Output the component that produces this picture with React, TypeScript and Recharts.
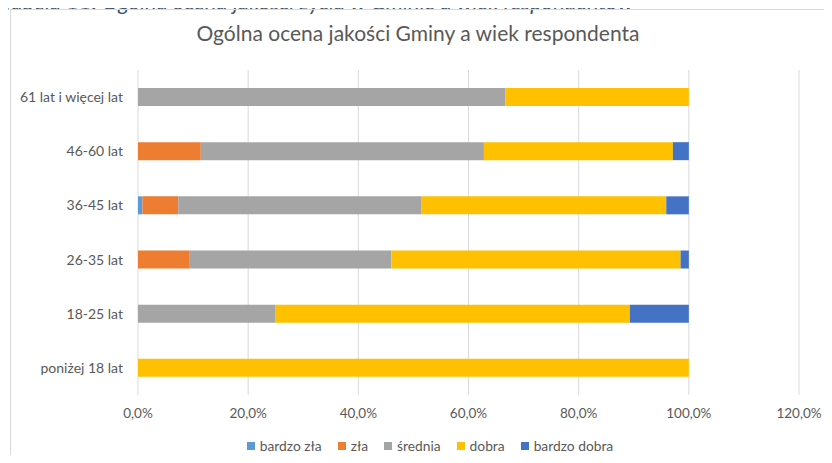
import React from 'react';
import { BarChart, Bar, XAxis, YAxis, CartesianGrid, Legend } from 'recharts';

const categories = ['61 lat i więcej lat', '46-60 lat', '36-45 lat', '26-35 lat', '18-25 lat', 'poniżej 18 lat'];
const bardzoZla = [0, 0, 0.8, 0, 0, 0];
const zla = [0, 11.4, 6.5, 9.4, 0, 0];
const srednia = [66.7, 51.4, 44.2, 36.6, 25.0, 0];
const dobra = [33.3, 34.3, 44.4, 52.5, 64.3, 100];
const bardzoDobra = [0, 2.9, 4.1, 1.5, 10.7, 0];
const xTicks = [0, 20, 40, 60, 80, 100, 120];

const seriesNames = ['bardzo zła', 'zła', 'średnia', 'dobra', 'bardzo dobra'];
const seriesKeys = ['bz', 'z', 's', 'd', 'bd'];
const colors = ['#5B9BD5', '#ED7D31', '#A5A5A5', '#FFC000', '#4472C4'];

const data = categories.map((name, i) => ({
  name,
  bz: bardzoZla[i],
  z: zla[i],
  s: srednia[i],
  d: dobra[i],
  bd: bardzoDobra[i],
}));

const FONT = 'Lato, sans-serif';
const TEXT = '#595959';

const LegendContent = () => (
  <div style={{ display: 'flex', justifyContent: 'center', alignItems: 'center', fontFamily: FONT, fontSize: 13.8, color: TEXT, paddingLeft: 28, lineHeight: '16px' }}>
    {seriesNames.map((n, i) => (
      <div key={n} style={{ display: 'flex', alignItems: 'center', marginRight: i < seriesNames.length - 1 ? 16 : 0 }}>
        <span style={{ display: 'inline-block', width: 8, height: 8, background: colors[i], marginRight: 5 }} />
        <span>{n}</span>
      </div>
    ))}
  </div>
);

export default function App() {
  return (
    <div style={{ position: 'relative', margin: -8, width: 832, height: 463, overflow: 'hidden', background: '#fff' }}>
      <div style={{ position: 'absolute', left: 2, top: -9, fontFamily: FONT, fontStyle: 'italic', fontSize: 22, color: '#44546A', whiteSpace: 'nowrap', lineHeight: '22px' }}>
        Tabela 11. Ogólna ocena jakości życia w Gminie a wiek respondentów
      </div>
      <div style={{ position: 'absolute', left: 10, top: 9, width: 840, height: 470, border: '1px solid #D9D9D9', boxSizing: 'border-box', background: 'transparent' }} />
      <div style={{ position: 'absolute', left: 0, top: 20, width: 832, textAlign: 'center', fontFamily: FONT, fontSize: 21, color: TEXT, paddingLeft: 2 }}>
        Ogólna ocena jakości Gminy a wiek respondenta
      </div>
      <div style={{ position: 'absolute', left: 0, top: 0 }}>
        <BarChart width={832} height={463} data={data} layout="vertical" barSize={18}
          margin={{ top: 70, right: 33, bottom: 22, left: 0 }}>
          <CartesianGrid horizontal={false} stroke="#D9D9D9" strokeWidth={1} />
          <XAxis type="number" domain={[0, 120]} ticks={xTicks} axisLine={false} tickLine={false} tickSize={0} tickMargin={13} height={30}
            tickFormatter={(v: number) => v.toFixed(1).replace('.', ',') + '%'}
            tick={{ fill: TEXT, fontSize: 13.5, fontFamily: FONT }} interval={0} />
          <YAxis type="category" dataKey="name" width={138} axisLine={false} tickLine={false} tickSize={0} tickMargin={15}
            tick={{ fill: TEXT, fontSize: 14, fontFamily: FONT }} interval={0} />
          <Legend verticalAlign="bottom" content={<LegendContent />} wrapperStyle={{ position: 'absolute', top: 438, left: 0, width: 832 }} />
          {seriesKeys.map((k, i) => (
            <Bar key={k} dataKey={k} name={seriesNames[i]} stackId="a" fill={colors[i]} isAnimationActive={false} />
          ))}
        </BarChart>
      </div>
    </div>
  );
}
